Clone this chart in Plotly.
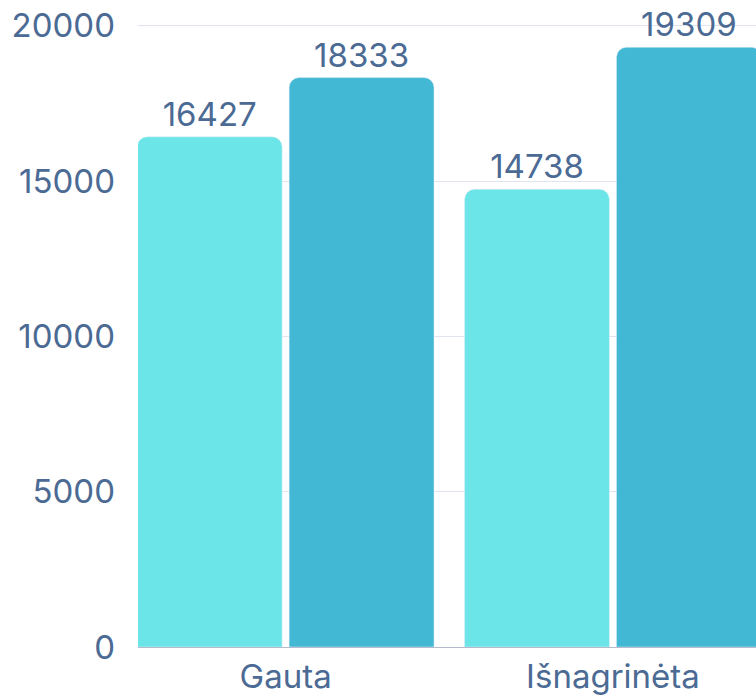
import plotly.graph_objects as go

categories = ["Gauta", "Išnagrinėta"]
series_a = [16427, 14738]
series_b = [18333, 19309]
y_ticks = [0, 5000, 10000, 15000, 20000]
y_tick_text = ["0", "5000", "10000", "15000", "20000"]

FONT = "Inter"
TXT = "#4b6a94"
FS = 33

fig = go.Figure()
fig.add_trace(go.Bar(x=categories, y=series_a, marker_color="#6be5e8",
                     text=[str(v) for v in series_a], textposition="outside",
                     textfont=dict(size=FS, color=TXT, family=FONT),
                     cliponaxis=False, name="A"))
fig.add_trace(go.Bar(x=categories, y=series_b, marker_color="#42b8d5",
                     text=[str(v) for v in series_b], textposition="outside",
                     textfont=dict(size=FS, color=TXT, family=FONT),
                     cliponaxis=False, name="B"))

fig.update_layout(
    width=756, height=695,
    margin=dict(l=138, r=0, t=1, b=48, autoexpand=False),
    paper_bgcolor="white", plot_bgcolor="white",
    showlegend=False,
    barmode="group", bargap=0.072, bargroupgap=0.046,
    barcornerradius=10,
    font=dict(family=FONT, color=TXT, size=FS),
)
fig.update_xaxes(range=[-0.451, 1.437], showgrid=False, showline=True,
                 linecolor="#b6bacd", linewidth=1, ticks="",
                 ticklabelstandoff=0, automargin=False,
                 tickfont=dict(size=FS, color=TXT, family=FONT))
fig.update_yaxes(range=[0, 20800], tickvals=y_ticks, ticktext=y_tick_text,
                 showgrid=True, gridcolor="#dfe4ee", gridwidth=1,
                 zeroline=False, ticklabelstandoff=22, automargin=False,
                 tickfont=dict(size=FS, color=TXT, family=FONT))

fig.write_html(
    "out.html",
    config={"displayModeBar": False},
    post_script="document.body.style.margin='0';document.body.style.overflow='hidden';",
)
